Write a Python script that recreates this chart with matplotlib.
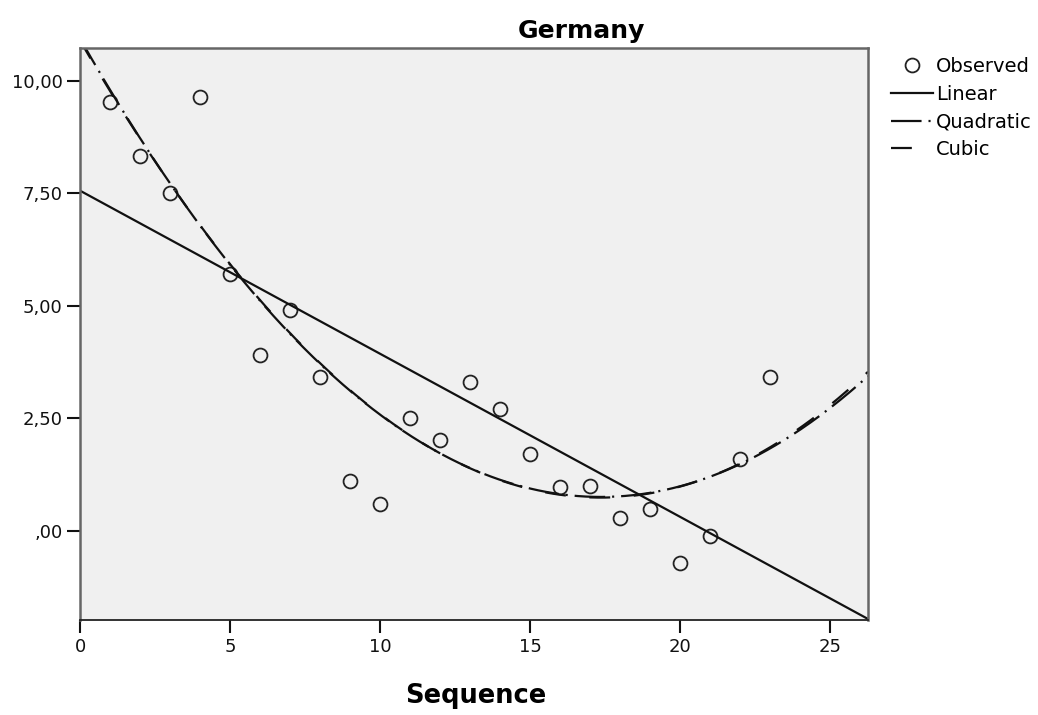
import matplotlib
matplotlib.use("Agg")
import matplotlib.pyplot as plt
import numpy as np

plt.rcParams['font.family'] = ['DejaVu Sans']
plt.rcParams['lines.scale_dashes'] = False

seq = np.arange(1, 24)
observed = [9.53, 8.33, 7.51, 9.64, 5.71, 3.91, 4.91, 3.42, 1.11, 0.60,
            2.51, 2.02, 3.31, 2.71, 1.71, 0.98, 1.00, 0.29, 0.49, -0.71,
            -0.11, 1.60, 3.42]

yticks = [0, 2.5, 5, 7.5, 10]
ytick_labels = [',00', '2,50', '5,00', '7,50', '10,00']
xticks = [0, 5, 10, 15, 20, 25]

# fits like SPSS curve estimation
lin = np.polyfit(seq, observed, 1)
quad = np.polyfit(seq, observed, 2)
cub = np.polyfit(seq, observed, 3)

W, H = 1038, 715
fig = plt.figure(figsize=(W / 100, H / 100), dpi=100)
ax = fig.add_axes([80 / W, 1 - 620 / H, 788 / W, 572 / H])
ax.set_facecolor('#f0f0f0')

xs = np.linspace(0, 26.27, 400)
ax.plot(seq, observed, 'o', ms=10, mfc='none', mec='#222222', mew=1.3, label='Observed')
ax.plot(xs, np.polyval(lin, xs), '-', color='#111111', lw=1.6, label='Linear')
ax.plot(xs, np.polyval(quad, xs), color='#111111', lw=1.6, ls=(0, (22, 5, 1.5, 5)), label='Quadratic')
ax.plot(xs, np.polyval(cub, xs), color='#111111', lw=1.6, ls=(0, (15, 17)), label='Cubic')

ax.set_xlim(0, 26.27)
ax.set_ylim(-1.98, 10.73)
ax.set_xticks(xticks)
ax.set_yticks(yticks)
ax.set_yticklabels(ytick_labels)
ax.tick_params(direction='out', length=9.5, width=1.5, labelsize=13, colors='#111111')
ax.tick_params(axis='x', pad=3.5)
ax.tick_params(axis='y', pad=3)
for s in ['left', 'top', 'right']:
    ax.spines[s].set_color('#666666')
    ax.spines[s].set_linewidth(1.8)
ax.spines['bottom'].set_color('#222222')
ax.spines['bottom'].set_linewidth(1.3)

fig.text(581 / W, 1 - 38 / H, 'Germany', fontsize=18, fontweight='bold',
         ha='center', va='baseline')
fig.text(476 / W, 1 - 703 / H, 'Sequence', fontsize=18.5, fontweight='bold',
         ha='center', va='baseline')

handles, labels = ax.get_legend_handles_labels()
fig.legend(handles, labels, loc='upper left', bbox_to_anchor=(891 / W, 1 - 57 / H),
           frameon=False, fontsize=14, handlelength=2.15, handletextpad=0.15,
           labelspacing=0.45, borderpad=0, borderaxespad=0)

fig.savefig('out.png', dpi=100)
